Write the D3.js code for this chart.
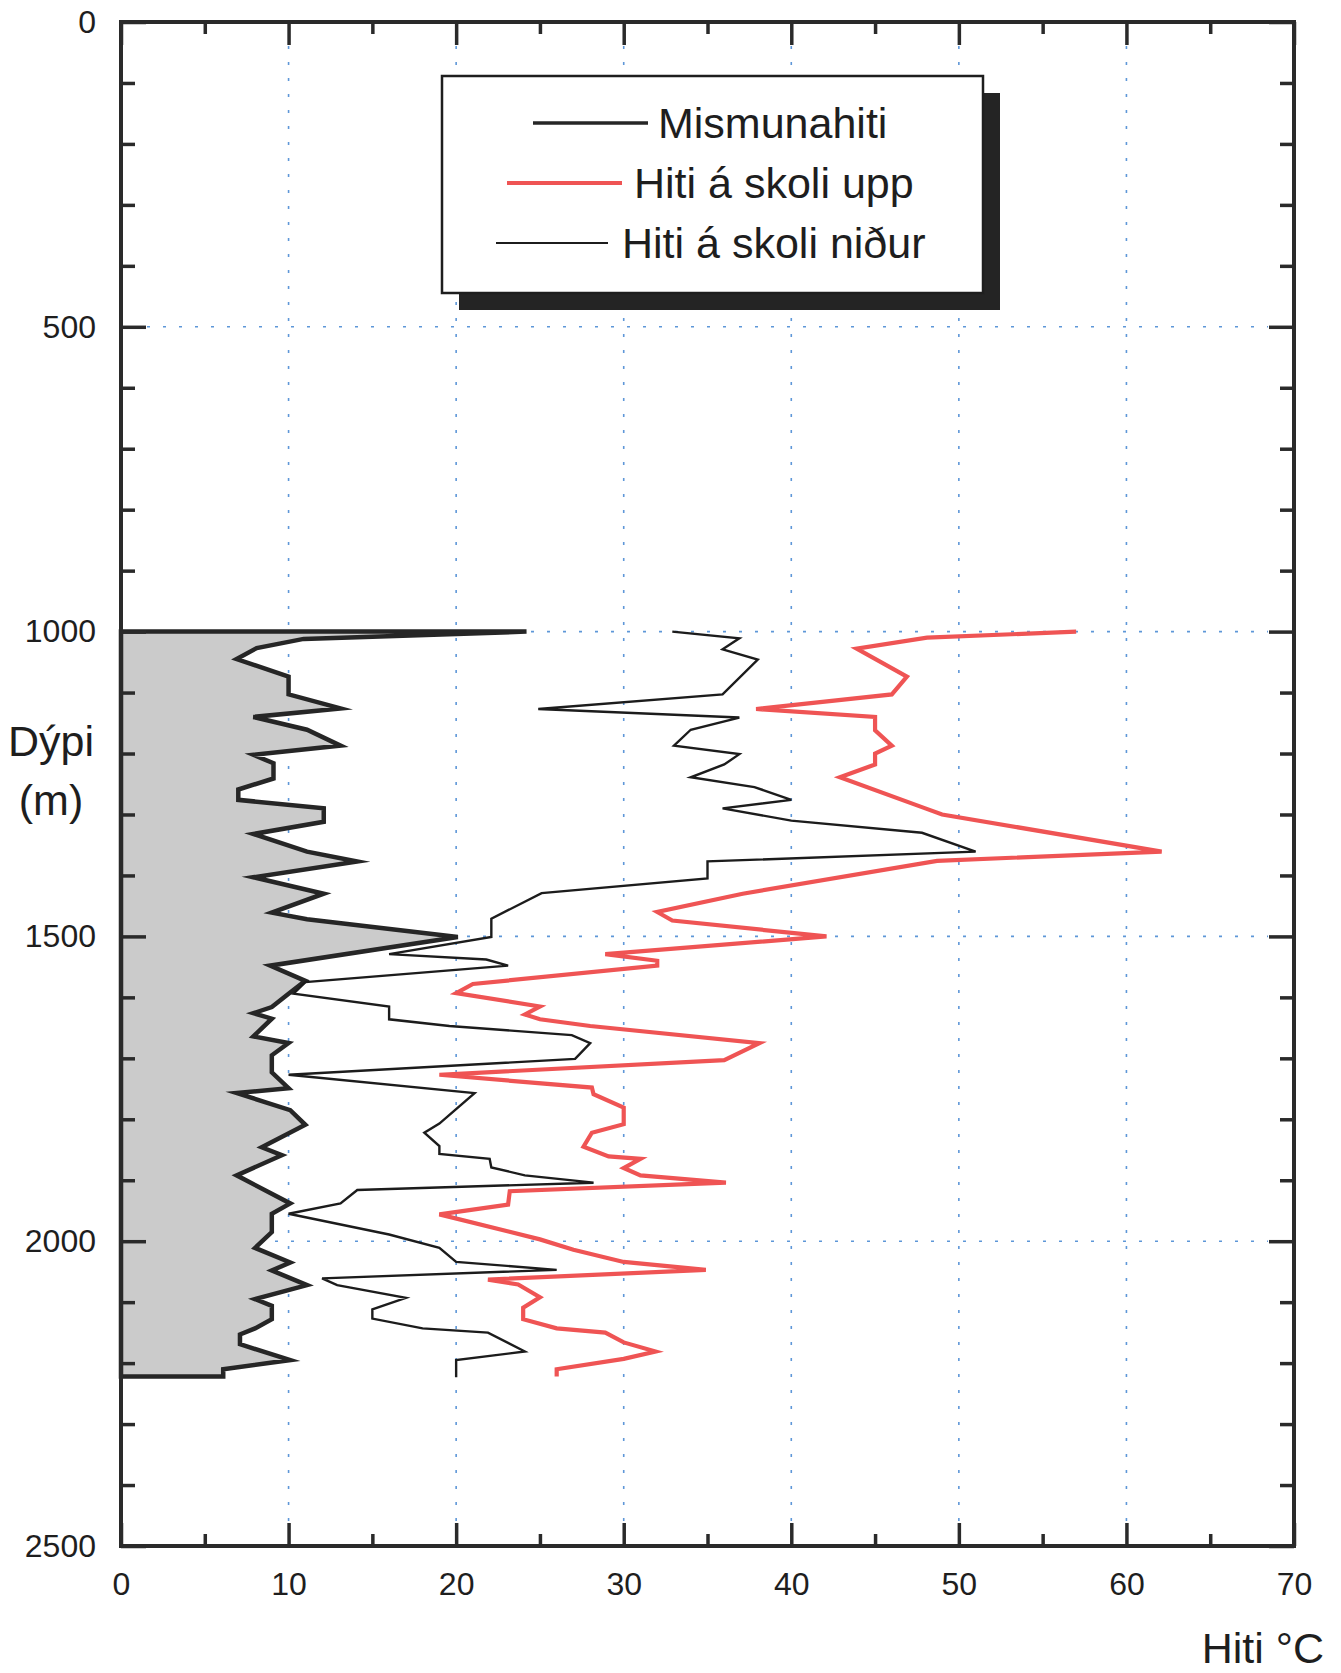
<!DOCTYPE html>
<html>
<head>
<meta charset="utf-8">
<script src="https://cdn.jsdelivr.net/npm/d3@7"></script>
<style>
  html, body { margin: 0; padding: 0; background: #ffffff; }
  svg { display: block; }
  text { font-family: "Liberation Sans", Arial, sans-serif; fill: #1e1e1e; }
</style>
</head>
<body>
<svg id="chart" width="1341" height="1673"></svg>
<script>
// ---------- DATA ----------
const xTickValues = [0, 10, 20, 30, 40, 50, 60, 70];
const yTickValues = [0, 500, 1000, 1500, 2000, 2500];
const legendLabels = ["Mismunahiti", "Hiti á skoli upp", "Hiti á skoli niður"];
const xTitle = "Hiti °C";
const yTitle = ["Dýpi", "(m)"];

// Mismunahiti (filled, thick)
const mismunDepth = [1000,1012,1027,1045,1074,1103,1126,1140,1161,1187,1202,1216,1241,1259,1276,1290,1312,1332,1361,1377,1403,1430,1461,1472,1501,1548,1573,1594,1616,1626,1635,1664,1675,1695,1723,1749,1757,1785,1809,1846,1859,1892,1938,1955,1985,2011,2035,2048,2072,2095,2106,2128,2143,2153,2169,2195,2210,2222];
const mismunTemp  = [24.2,10.9,8.1,6.9,10.0,10.0,13.1,7.9,11.1,13.1,7.9,9.1,9.1,7.0,7.0,12.1,12.1,7.9,11.1,14.1,7.9,12.1,9.0,11.1,20.1,8.9,11.0,10.0,9.0,7.9,9.0,7.9,10.0,9.0,9.0,10.0,6.9,10.1,11.0,8.4,9.6,6.9,10.1,9.0,9.0,8.0,10.1,9.0,11.1,8.0,9.0,9.0,8.0,7.1,7.1,10.1,6.1,6.1];

// Hiti á skoli upp (red)
const uppDepth = [1000,1010,1028,1074,1103,1127,1140,1162,1187,1200,1218,1239,1290,1300,1361,1376,1430,1460,1474,1500,1529,1540,1548,1578,1593,1615,1628,1636,1647,1675,1703,1727,1748,1759,1781,1808,1822,1845,1861,1865,1880,1892,1904,1918,1940,1956,1997,2014,2034,2047,2063,2071,2092,2109,2128,2143,2150,2166,2181,2193,2210,2222];
const uppTemp  = [57.0,48.1,43.9,46.9,46.0,37.9,45.0,45.0,46.0,45.0,45.0,42.9,48.0,49.0,62.1,48.7,37.1,32.0,32.9,42.1,28.9,32.0,32.0,21.0,20.0,25.0,24.1,25.0,28.0,38.1,36.0,19.0,28.1,28.2,30.0,30.0,28.1,27.6,29.1,31.0,30.0,31.0,36.1,23.2,23.1,19.0,25.0,27.0,30.0,34.9,21.9,23.7,25.0,24.0,24.0,26.0,28.9,30.0,31.9,30.0,26.0,26.0];

// Hiti á skoli niður (thin black)
const nidurDepth = [1000,1011,1029,1046,1103,1127,1141,1161,1187,1201,1218,1239,1255,1276,1290,1310,1330,1361,1377,1405,1429,1471,1501,1529,1538,1548,1575,1594,1615,1636,1647,1662,1675,1701,1727,1757,1807,1822,1844,1857,1865,1879,1892,1904,1916,1938,1955,1989,2011,2034,2047,2061,2072,2093,2112,2127,2143,2150,2181,2195,2223];
const nidurTemp  = [32.9,36.9,35.9,38.0,35.9,24.9,36.9,34.0,33.0,36.9,36.0,34.0,37.8,40.0,35.9,40.0,47.8,51.0,35.0,35.0,25.1,22.1,22.1,16.0,21.8,23.1,11.0,10.3,16.0,16.0,19.6,26.9,28.0,27.1,10.0,21.1,19.0,18.1,19.0,19.0,22.0,22.1,24.1,28.2,14.1,13.1,10.0,16.0,19.0,20.0,26.0,12.0,12.9,17.0,15.0,15.0,18.0,21.9,24.1,20.0,20.0];

// ---------- LAYOUT ----------
const W = 1341, H = 1673;
const plot = { left: 121, right: 1294, top: 22, bottom: 1546 };
const svg = d3.select("#chart");

const x = d3.scaleLinear().domain([0, 70]).range([plot.left, plot.right]);
const y = d3.scaleLinear().domain([0, 2500]).range([plot.top, plot.bottom]);

const zip = (ds, ts) => ds.map((d, i) => ({ d: d, t: ts[i] }));
const mismun = zip(mismunDepth, mismunTemp);
const upp = zip(uppDepth, uppTemp);
const nidur = zip(nidurDepth, nidurTemp);

// ---------- GRID ----------
const grid = svg.append("g").attr("class", "grid");
grid.selectAll("line.v").data(xTickValues.filter(v => v > 0 && v < 70)).join("line")
  .attr("class", "v")
  .attr("x1", d => x(d)).attr("x2", d => x(d))
  .attr("y1", plot.top + 24).attr("y2", plot.bottom - 24)
  .attr("stroke", "#5e97d8").attr("stroke-width", 1.6)
  .attr("stroke-dasharray", "3,13");
grid.selectAll("line.h").data(yTickValues.filter(v => v > 0 && v < 2500)).join("line")
  .attr("class", "h")
  .attr("x1", plot.left + 26).attr("x2", plot.right - 26)
  .attr("y1", d => y(d)).attr("y2", d => y(d))
  .attr("stroke", "#5e97d8").attr("stroke-width", 1.6)
  .attr("stroke-dasharray", "3,13");

// ---------- SERIES ----------
const area = d3.area()
  .x0(x(0))
  .x1(p => x(p.t))
  .y(p => y(p.d));
svg.append("path")
  .datum(mismun)
  .attr("d", area)
  .attr("fill", "#cbcbcb")
  .attr("stroke", "#262626")
  .attr("stroke-width", 4.5)
  .attr("stroke-linejoin", "miter")
  .attr("stroke-miterlimit", 6);

const line = d3.line().x(p => x(p.t)).y(p => y(p.d));
svg.append("path")
  .datum(nidur)
  .attr("d", line)
  .attr("fill", "none")
  .attr("stroke", "#1c1c1c")
  .attr("stroke-width", 2.4)
  .attr("stroke-linejoin", "miter");
svg.append("path")
  .datum(upp)
  .attr("d", line)
  .attr("fill", "none")
  .attr("stroke", "#ef5454")
  .attr("stroke-width", 4.2)
  .attr("stroke-linejoin", "miter");

// ---------- AXES ----------
const axisColor = "#2a2a2a";
function styleAxis(g) {
  g.select(".domain").remove();
  g.selectAll(".tick line").attr("stroke", axisColor).attr("stroke-width", 3.5);
  g.selectAll(".tick text").attr("fill", "#1e1e1e").attr("font-size", 32)
    .attr("font-family", "'Liberation Sans', Arial, sans-serif");
}
const minorY = d3.range(100, 2500, 100).filter(v => v % 500 !== 0);
const minorX = d3.range(5, 70, 10);

// left
svg.append("g").attr("transform", `translate(${plot.left},0)`)
  .call(d3.axisLeft(y).tickValues(minorY).tickSize(-14).tickFormat(""))
  .call(styleAxis);
svg.append("g").attr("transform", `translate(${plot.left},0)`)
  .call(d3.axisLeft(y).tickValues(yTickValues).tickSize(-25).tickPadding(25).tickFormat(d3.format("d")))
  .call(styleAxis);
// right
svg.append("g").attr("transform", `translate(${plot.right},0)`)
  .call(d3.axisRight(y).tickValues(minorY).tickSize(-14).tickFormat(""))
  .call(styleAxis);
svg.append("g").attr("transform", `translate(${plot.right},0)`)
  .call(d3.axisRight(y).tickValues(yTickValues).tickSize(-25).tickFormat(""))
  .call(styleAxis);
// bottom
svg.append("g").attr("transform", `translate(0,${plot.bottom})`)
  .call(d3.axisBottom(x).tickValues(minorX).tickSize(-12).tickFormat(""))
  .call(styleAxis);
svg.append("g").attr("transform", `translate(0,${plot.bottom})`)
  .call(d3.axisBottom(x).tickValues(xTickValues).tickSize(-23).tickPadding(26).tickFormat(d3.format("d")))
  .call(styleAxis);
// top
svg.append("g").attr("transform", `translate(0,${plot.top})`)
  .call(d3.axisTop(x).tickValues(minorX).tickSize(-12).tickFormat(""))
  .call(styleAxis);
svg.append("g").attr("transform", `translate(0,${plot.top})`)
  .call(d3.axisTop(x).tickValues(xTickValues).tickSize(-23).tickFormat(""))
  .call(styleAxis);

// frame
svg.append("rect")
  .attr("x", plot.left).attr("y", plot.top)
  .attr("width", plot.right - plot.left).attr("height", plot.bottom - plot.top)
  .attr("fill", "none").attr("stroke", axisColor).attr("stroke-width", 4);

// ---------- TITLES ----------
svg.append("text").attr("x", 51).attr("y", 756).attr("text-anchor", "middle")
  .attr("font-size", 43).text(yTitle[0]);
svg.append("text").attr("x", 51).attr("y", 815).attr("text-anchor", "middle")
  .attr("font-size", 43).text(yTitle[1]);
svg.append("text").attr("x", 1324).attr("y", 1663).attr("text-anchor", "end")
  .attr("font-size", 43).text(xTitle);

// ---------- LEGEND ----------
const lg = { x: 442, y: 76, w: 541, h: 217, off: 17 };
svg.append("rect").attr("x", lg.x + lg.off).attr("y", lg.y + lg.off)
  .attr("width", lg.w).attr("height", lg.h).attr("fill", "#242424");
svg.append("rect").attr("x", lg.x).attr("y", lg.y)
  .attr("width", lg.w).attr("height", lg.h).attr("fill", "#ffffff")
  .attr("stroke", "#1e1e1e").attr("stroke-width", 2.5);

const legendItems = [
  { label: legendLabels[0], x1: 533, x2: 648, tx: 658, cy: 123, color: "#262626", w: 3.5 },
  { label: legendLabels[1], x1: 507, x2: 622, tx: 634, cy: 183, color: "#ef5454", w: 4 },
  { label: legendLabels[2], x1: 496, x2: 608, tx: 622, cy: 243, color: "#1c1c1c", w: 2.2 }
];
const li = svg.append("g").selectAll("g").data(legendItems).join("g");
li.append("line")
  .attr("x1", d => d.x1).attr("x2", d => d.x2)
  .attr("y1", d => d.cy).attr("y2", d => d.cy)
  .attr("stroke", d => d.color).attr("stroke-width", d => d.w);
li.append("text")
  .attr("x", d => d.tx).attr("y", d => d.cy + 15)
  .attr("font-size", 43)
  .text(d => d.label);
</script>
</body>
</html>
